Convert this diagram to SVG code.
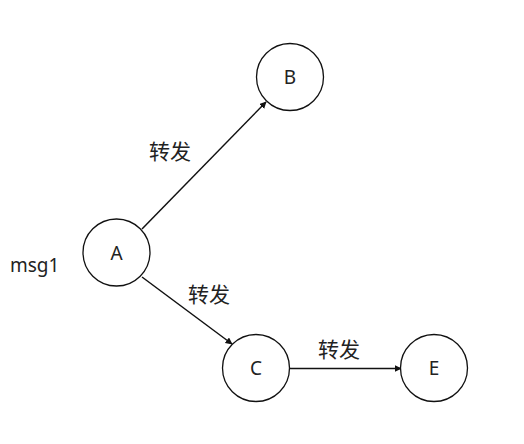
<svg xmlns="http://www.w3.org/2000/svg" width="524" height="444" viewBox="0 0 524 444">
<style>
.node circle{fill:#fff;stroke:#111;stroke-width:1.3}
.node text{font-family:"Noto Sans","Liberation Sans",sans-serif;font-size:19px;fill:#222;text-anchor:middle}
.lbl{font-family:"Noto Sans CJK SC","Liberation Sans",sans-serif;font-size:21px;fill:#222;text-anchor:middle}
.edge{stroke:#111;stroke-width:1.5;fill:none;marker-end:url(#arr)}
</style>
<defs>
<marker id="arr" viewBox="0 0 10 10" refX="9" refY="5" markerWidth="7" markerHeight="7" orient="auto" markerUnits="userSpaceOnUse">
<path d="M0,0 L10,5 L0,10 z" fill="#111"/>
</marker>
</defs>
<g id="connectors">
<line class="edge" x1="142" y1="229" x2="266" y2="102"/>
<line class="edge" x1="142" y1="277" x2="232" y2="344"/>
<line class="edge" x1="290" y1="368.5" x2="401" y2="368.5"/>
</g>
<g id="labels">
<text class="lbl" x="170" y="159">转发</text>
<text class="lbl" x="209" y="302">转发</text>
<text class="lbl" x="339" y="357">转发</text>
<text x="10" y="272" font-family="Noto Sans,Liberation Sans,sans-serif" font-size="19" fill="#222">msg1</text>
</g>
<g id="A" class="node"><circle cx="116.5" cy="252.5" r="33.5"/><text x="116.5" y="259.5">A</text></g>
<g id="B" class="node"><circle cx="290" cy="77" r="33.5"/><text x="290" y="84">B</text></g>
<g id="C" class="node"><circle cx="256" cy="368" r="33.5"/><text x="256" y="375">C</text></g>
<g id="E" class="node"><circle cx="434" cy="368" r="33.5"/><text x="434" y="375">E</text></g>
</svg>
